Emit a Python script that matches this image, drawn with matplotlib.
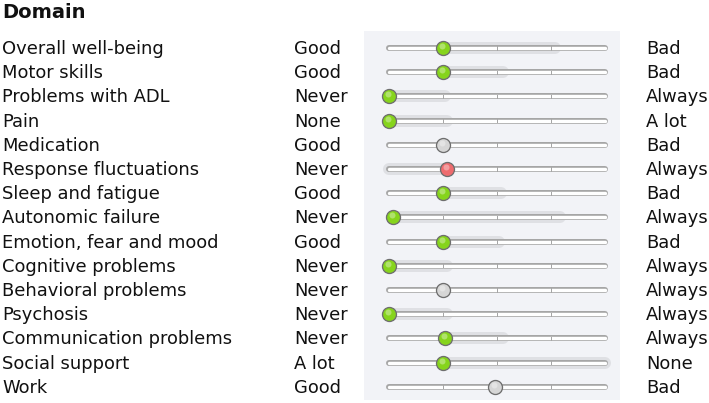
import numpy as np
import matplotlib
matplotlib.use('Agg')
import matplotlib.pyplot as plt
from matplotlib.transforms import blended_transform_factory

# data
domains = ['Overall well-being', 'Motor skills', 'Problems with ADL', 'Pain', 'Medication',
           'Response fluctuations', 'Sleep and fatigue', 'Autonomic failure',
           'Emotion, fear and mood', 'Cognitive problems', 'Behavioral problems',
           'Psychosis', 'Communication problems', 'Social support', 'Work']
left_lbl = ['Good', 'Good', 'Never', 'None', 'Good', 'Never', 'Good', 'Never',
            'Good', 'Never', 'Never', 'Never', 'Never', 'A lot', 'Good']
right_lbl = ['Bad', 'Bad', 'Always', 'A lot', 'Bad', 'Always', 'Bad', 'Always',
             'Bad', 'Always', 'Always', 'Always', 'Always', 'None', 'Bad']
# slider value (0..1) and end of the shaded range
value = [0.25, 0.25, 0.0, 0.0, 0.25, 0.27, 0.25, 0.02, 0.25, 0.0, 0.25, 0.0, 0.26, 0.25, 0.49]
band_to = [0.77, 0.53, 0.26, 0.27, None, 0.0, 0.52, 0.79, 0.51, 0.27, None, 0.27, 0.53, 1.0, None]
state = ['ok', 'ok', 'ok', 'ok', 'na', 'bad', 'ok', 'ok', 'ok', 'ok', 'na', 'ok', 'ok', 'ok', 'na']

W, H = 709, 403
fig = plt.figure(figsize=(W / 100, H / 100), dpi=100)
fig.patch.set_facecolor('white')

# slider panel, pixel box 364..620 x 31..400
px0, px1, py0, py1 = 364, 620, 31, 400
ax = fig.add_axes([px0 / W, 1 - py1 / H, (px1 - px0) / W, (py1 - py0) / H])
ax.set_facecolor('#f2f3f7')
for s in ax.spines.values():
    s.set_visible(False)
ax.set_xticks([])
ax.set_yticks([])
tl, tr = 389, 605          # track ends in pixels
span = tr - tl
ax.set_xlim(-(tl - px0) / span, 1 + (px1 - tr) / span)
row0, step = 48, 24.2
ax.set_ylim((py1 - row0) / step, -(row0 - py0) / step)

knob_col = {'ok': '#86d41c', 'na': '#d6d6d6', 'bad': '#ee6b6e'}
pt = 72 / 100  # points per pixel

n = len(domains)
for i in range(n):
    y = i
    # shaded range
    b = band_to[i]
    if b is not None:
        ax.plot([min(value[i], b), max(value[i], b)], [y, y], color='#dfe0e4',
                lw=12 * pt, solid_capstyle='round', zorder=1)
    # track
    ax.plot([0, 1], [y, y], color='#a6a6a6', lw=6 * pt, solid_capstyle='round', zorder=2)
    ax.plot([0, 1], [y, y], color='white', lw=3.4 * pt, solid_capstyle='round', zorder=3)
    for t in [0.25, 0.5, 0.75]:
        ax.plot([t, t], [y - 0.07, y + 0.07], color='#a6a6a6', lw=1 * pt, zorder=4)
    # knob
    ax.scatter([value[i]], [y], s=(14 * pt) ** 2, color=knob_col[state[i]],
               edgecolor='#6e6e6e', linewidth=1.3 * pt, zorder=6)
    ax.scatter([value[i] - 0.004], [y - 0.08], s=(6 * pt) ** 2, color='white',
               alpha=0.35, linewidth=0, zorder=7)

# labels
tr_lab = blended_transform_factory(fig.transFigure, ax.transData)
fs = 12.9
dy = 0.04
for i in range(n):
    ax.text(2 / W, i + dy, domains[i], transform=tr_lab, fontsize=fs, va='center',
            ha='left', color='#111111', clip_on=False)
    ax.text(294 / W, i + dy, left_lbl[i], transform=tr_lab, fontsize=fs, va='center',
            ha='left', color='#111111', clip_on=False)
    ax.text(646 / W, i + dy, right_lbl[i], transform=tr_lab, fontsize=fs, va='center',
            ha='left', color='#111111', clip_on=False)
fig.text(2 / W, 1 - 12 / H, 'Domain', fontsize=14, fontweight='bold', va='center',
         ha='left', color='#111111')

fig.savefig('out.png', dpi=100)
